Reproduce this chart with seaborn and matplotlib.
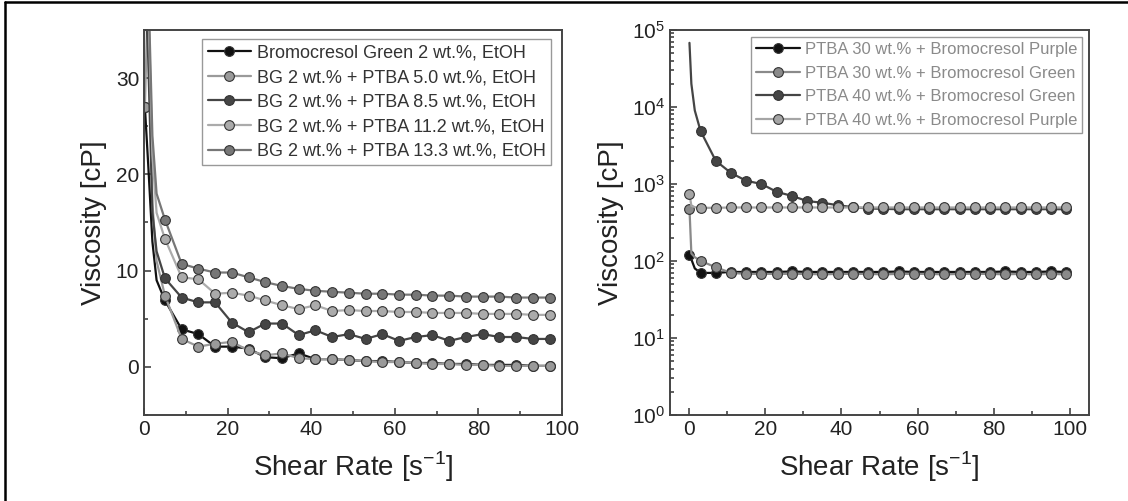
import matplotlib
matplotlib.use("Agg")
import matplotlib.pyplot as plt
import matplotlib.ticker as mticker
from matplotlib.lines import Line2D
import pandas as pd
import seaborn as sns

# left panel: Bromocresol Green in EtOH with increasing PTBA
shear_left = [0.2, 1.0, 2.0, 3.0, 5, 9, 13, 17, 21, 25, 29, 33, 37, 41,
              45, 49, 53, 57, 61, 65, 69, 73, 77, 81, 85, 89, 93, 97]
bg_only = [27, 21, 13, 9, 6.9, 3.9, 3.4, 2.1, 2.1, 1.9, 1.0, 0.9, 1.4, 0.8,
           0.8, 0.7, 0.6, 0.6, 0.5, 0.4, 0.4, 0.3, 0.3, 0.2, 0.2, 0.2, 0.1, 0.1]
bg_ptba50 = [27, 40, 17, 11, 7.4, 2.9, 2.1, 2.4, 2.6, 1.7, 1.2, 1.4, 0.9, 0.8,
             0.8, 0.7, 0.6, 0.5, 0.5, 0.4, 0.3, 0.3, 0.2, 0.2, 0.1, 0.1, 0.1, 0.1]
bg_ptba85 = [40, 32, 16, 12, 9.2, 7.2, 6.7, 6.7, 4.6, 3.6, 4.5, 4.5, 3.3, 3.8,
             3.1, 3.4, 2.9, 3.4, 2.7, 3.1, 3.3, 2.7, 3.1, 3.4, 3.1, 3.1, 2.9, 2.9]
bg_ptba112 = [45, 38, 22, 16, 13.3, 9.3, 9.1, 7.6, 7.7, 7.4, 6.9, 6.4, 6.0, 6.4,
              5.8, 5.9, 5.8, 5.8, 5.7, 5.7, 5.6, 5.6, 5.6, 5.5, 5.5, 5.5, 5.4, 5.4]
bg_ptba133 = [45, 40, 24, 18, 15.3, 10.7, 10.2, 9.8, 9.8, 9.3, 8.8, 8.4, 8.1, 7.9,
              7.8, 7.7, 7.6, 7.6, 7.5, 7.5, 7.4, 7.4, 7.3, 7.3, 7.3, 7.2, 7.2, 7.2]
left_labels = ["Bromocresol Green 2 wt.%, EtOH",
               "BG 2 wt.% + PTBA 5.0 wt.%, EtOH",
               "BG 2 wt.% + PTBA 8.5 wt.%, EtOH",
               "BG 2 wt.% + PTBA 11.2 wt.%, EtOH",
               "BG 2 wt.% + PTBA 13.3 wt.%, EtOH"]
left_colors = ["#111111", "#9a9a9a", "#454545", "#ababab", "#777777"]

# right panel: PTBA 30 / 40 wt.% with dyes
shear_right = [0.1, 0.6, 1.5, 3, 7, 11, 15, 19, 23, 27, 31, 35, 39, 43,
               47, 51, 55, 59, 63, 67, 71, 75, 79, 83, 87, 91, 95, 99]
p30_bcp = [120, 105, 80, 70, 70, 72, 72, 72, 72, 73, 72, 72, 72, 72,
           72, 72, 73, 72, 72, 72, 72, 72, 72, 73, 72, 72, 73, 72]
p30_bcg = [480, 125, 112, 100, 83, 70, 68, 68, 68, 68, 68, 67, 68, 68,
           68, 67, 68, 68, 68, 67, 68, 68, 68, 67, 68, 67, 68, 67]
p40_bcg = [68000, 20000, 9000, 4900, 2000, 1390, 1100, 1000, 790, 700, 600, 570, 530, 500,
           480, 475, 470, 470, 470, 470, 470, 470, 470, 470, 470, 470, 470, 470]
p40_bcp = [750, 520, 500, 490, 490, 495, 495, 495, 495, 495, 495, 495, 495, 495,
           495, 495, 495, 495, 495, 495, 495, 495, 495, 495, 495, 495, 495, 495]
right_labels = ["PTBA 30 wt.% + Bromocresol Purple",
                "PTBA 30 wt.% + Bromocresol Green",
                "PTBA 40 wt.% + Bromocresol Green",
                "PTBA 40 wt.% + Bromocresol Purple"]
right_colors = ["#111111", "#8a8a8a", "#454545", "#a5a5a5"]

sns.set_style("ticks")
plt.rcParams["font.family"] = ["Liberation Sans", "DejaVu Sans"]
plt.rcParams["mathtext.fontset"] = "custom"
plt.rcParams["mathtext.rm"] = "Liberation Sans"

fig = plt.figure(figsize=(11.28, 5.01), dpi=100)
ax1 = fig.add_axes([0.1277, 0.1717, 0.3706, 0.7685])
ax2 = fig.add_axes([0.594, 0.1717, 0.3715, 0.7685])


def draw(ax, x, ys, labels, colors, mark_first, start):
    for y, lab, col, first in zip(ys, labels, colors, mark_first):
        df = pd.DataFrame({"x": x, "y": y})
        marks = ([0] if first else []) + list(range(start, len(x)))
        sns.lineplot(data=df, x="x", y="y", ax=ax, color=col, lw=1.6,
                     marker="o", markersize=7, markevery=marks,
                     markeredgecolor="#333333", markeredgewidth=0.8,
                     label=lab, sort=False, estimator=None)


draw(ax1, shear_left, [bg_only, bg_ptba50, bg_ptba85, bg_ptba112, bg_ptba133],
     left_labels, left_colors, [True, True, False, False, False], 4)
draw(ax2, shear_right, [p30_bcp, p30_bcg, p40_bcg, p40_bcp],
     right_labels, right_colors, [True, True, False, True], 3)

ax1.set_xlim(0, 100)
ax1.set_ylim(-5, 35)
ax1.xaxis.set_major_locator(mticker.MultipleLocator(20))
ax1.xaxis.set_minor_locator(mticker.MultipleLocator(10))
ax1.yaxis.set_major_locator(mticker.MultipleLocator(10))
ax1.yaxis.set_minor_locator(mticker.MultipleLocator(5))

ax2.set_yscale("log")
ax2.set_xlim(-5, 105)
ax2.set_ylim(1, 1e5)
ax2.xaxis.set_major_locator(mticker.MultipleLocator(20))
ax2.xaxis.set_minor_locator(mticker.MultipleLocator(10))
ax2.yaxis.set_major_locator(mticker.LogLocator(base=10, numticks=10))
ax2.yaxis.set_minor_locator(mticker.LogLocator(base=10, subs=range(2, 10), numticks=10))
ax2.yaxis.set_minor_formatter(mticker.NullFormatter())

for ax in (ax1, ax2):
    for sp in ax.spines.values():
        sp.set_visible(True)
        sp.set_color("#444444")
        sp.set_linewidth(1.4)
    ax.tick_params(which="both", direction="in", colors="#444444",
                   labelcolor="#222222", labelsize=15, width=1.2)
    ax.tick_params(which="major", length=5)
    ax.tick_params(which="minor", length=3)
    ax.set_xlabel(r"Shear Rate [s$^{\mathregular{-1}}$]", fontsize=20,
                  color="#222222", labelpad=8)
    ax.set_ylabel("Viscosity [cP]", fontsize=20, color="#222222", labelpad=6)

leg1 = ax1.legend(loc="upper right", bbox_to_anchor=(0.973, 0.976),
                  borderaxespad=0, fontsize=13, frameon=True, fancybox=False,
                  framealpha=1, edgecolor="#999999", handlelength=2.4,
                  handletextpad=0.3, labelspacing=0.42, borderpad=0.3)
for t in leg1.get_texts():
    t.set_color("#333333")
leg2 = ax2.legend(loc="upper right", bbox_to_anchor=(0.983, 0.982),
                  borderaxespad=0, fontsize=12, frameon=True, fancybox=False,
                  framealpha=1, edgecolor="#999999", handlelength=2.6,
                  handletextpad=0.3, labelspacing=0.52, borderpad=0.3)
for t in leg2.get_texts():
    t.set_color("#8a8a8a")

# cropped frame along top and left edges
fig.add_artist(Line2D([0.0045, 1.0], [0.996, 0.996], color="black", lw=1.8,
                      transform=fig.transFigure))
fig.add_artist(Line2D([0.0045, 0.0045], [0.0, 0.996], color="black", lw=1.8,
                      transform=fig.transFigure))

fig.savefig("out.png", dpi=100)
